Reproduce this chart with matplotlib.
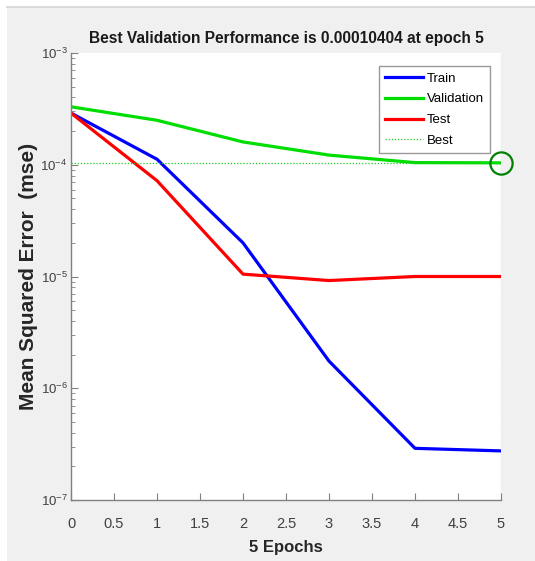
import matplotlib.pyplot as plt
from matplotlib.patches import Rectangle
from matplotlib.lines import Line2D
from matplotlib.ticker import LogLocator, FixedLocator

# performance per epoch
epochs = [0, 1, 2, 3, 4, 5]
train_mse = [2.9e-4, 1.12e-4, 2.0e-5, 1.75e-6, 2.9e-7, 2.75e-7]
val_mse = [3.3e-4, 2.5e-4, 1.6e-4, 1.22e-4, 1.045e-4, 1.0404e-4]
test_mse = [2.9e-4, 7.2e-5, 1.05e-5, 9.2e-6, 1.0e-5, 1.0e-5]
best_epoch = 5
best_perf = 1.0404e-4
x_ticks = [0, 0.5, 1, 1.5, 2, 2.5, 3, 3.5, 4, 4.5, 5]
x_labels = ['0', '0.5', '1', '1.5', '2', '2.5', '3', '3.5', '4', '4.5', '5']

plt.rcParams['font.family'] = ['Liberation Sans', 'DejaVu Sans']
plt.rcParams['mathtext.fontset'] = 'custom'
plt.rcParams['mathtext.rm'] = 'Liberation Sans'
plt.rcParams['mathtext.it'] = 'Liberation Sans'
plt.rcParams['mathtext.bf'] = 'Liberation Sans:bold'

fig = plt.figure(figsize=(5.35, 5.61), dpi=100)
fig.patch.set_facecolor('white')
# grey window background
bg = Rectangle((7 / 535, 0), 1 - 7 / 535, 1 - 7 / 561, transform=fig.transFigure,
               facecolor='#f0f0f0', edgecolor='none', zorder=-10)
fig.patches.append(bg)
fig.add_artist(Line2D([7 / 535, 1], [1 - 7 / 561, 1 - 7 / 561], transform=fig.transFigure,
                      color='#d4d4d4', lw=1.2))

ax = fig.add_axes([71 / 535, 1 - 500 / 561, 430 / 535, 447 / 561])
ax.set_facecolor('white')

ax.plot(epochs, train_mse, color='#0000ff', lw=2.3, label='Train')
ax.plot(epochs, val_mse, color='#00dd00', lw=2.3, label='Validation')
ax.plot(epochs, test_mse, color='#ff0000', lw=2.3, label='Test')
ax.axhline(best_perf, color='#22cc22', lw=0.9, ls=(0, (1, 1.5)), label='Best')
ax.axvline(best_epoch, color='#22cc22', lw=0.9, ls=(0, (1, 1.5)))
ax.plot([best_epoch], [best_perf], marker='o', ms=16, mfc='none', mec='#008000',
        mew=1.6, clip_on=False, zorder=5)

ax.set_yscale('log')
ax.set_ylim(1e-7, 1e-3)
ax.set_xlim(0, 5)
ax.xaxis.set_major_locator(FixedLocator(x_ticks))
ax.set_xticklabels(x_labels)
ax.yaxis.set_major_locator(LogLocator(base=10, numticks=10))
ax.yaxis.set_minor_locator(LogLocator(base=10, subs=range(2, 10), numticks=20))

for side in ['top', 'right']:
    ax.spines[side].set_visible(False)
for side in ['left', 'bottom']:
    ax.spines[side].set_color('#808080')
    ax.spines[side].set_linewidth(1.0)
ax.tick_params(which='both', direction='in', colors='#808080', labelcolor='#404040')
ax.tick_params(which='major', length=5)
ax.tick_params(which='minor', length=3)
ax.tick_params(axis='x', pad=12, labelsize=10.5)
ax.tick_params(axis='y', pad=2.5, labelsize=9.5)

ax.set_title('Best Validation Performance is 0.00010404 at epoch 5',
             fontsize=11.2, fontweight='bold', color='#1a1a1a', pad=7)
ax.set_xlabel('5 Epochs', fontsize=12, fontweight='bold', color='#262626')
ax.xaxis.set_label_coords(0.5, -0.09)
ax.set_ylabel('Mean Squared Error  (mse)', fontsize=15, fontweight='bold',
              color='#262626')
ax.yaxis.set_label_coords(-0.076, 0.5)

leg = ax.legend(loc='upper right', bbox_to_anchor=(0.975, 0.97), fontsize=9.5,
                frameon=True, fancybox=False, handlelength=2.9, handletextpad=0.3,
                borderpad=0.45, labelspacing=0.65, borderaxespad=0)
leg.get_frame().set_edgecolor('#808080')
leg.get_frame().set_linewidth(1.0)

fig.savefig('out.png', dpi=100)
